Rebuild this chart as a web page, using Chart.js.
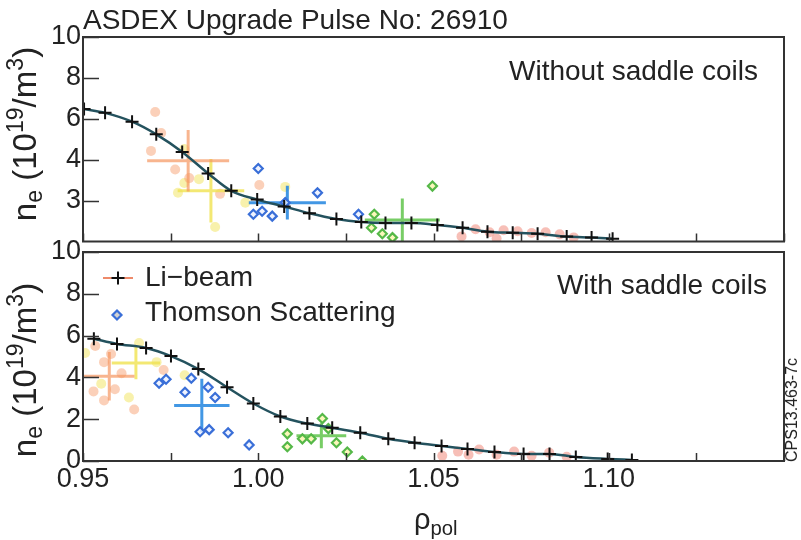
<!DOCTYPE html>
<html>
<head>
<meta charset="utf-8">
<script src="https://cdn.jsdelivr.net/npm/chart.js@4.4.1/dist/chart.umd.min.js"></script>
<style>
  body { margin: 0; background: #fff; }
  #wrap { position: relative; width: 801px; height: 540px; overflow: hidden; font-family: "Liberation Sans", Arial, Helvetica, sans-serif; color: #222; }
  #wrap canvas { position: absolute; left: 0; }
  .t { position: absolute; white-space: nowrap; line-height: 1; }
  .rot { position: absolute; white-space: nowrap; line-height: 1; transform: translate(-50%, -50%) rotate(-90deg); }
  sub { font-size: 0.7em; vertical-align: -0.28em; line-height: 0; }
  sup { font-size: 0.7em; vertical-align: 0.55em; line-height: 0; }
</style>
</head>
<body>
<div id="wrap">
  <canvas id="topChart" width="801" height="250" style="top:0"></canvas>
  <canvas id="botChart" width="801" height="315" style="top:225px"></canvas>

  <div class="t" style="left:83px; top:6px; font-size:28px">ASDEX Upgrade Pulse No: 26910</div>
  <div class="t" style="right:43px; top:57px; font-size:28px">Without saddle coils</div>
  <div class="t" style="right:34px; top:271px; font-size:28px">With saddle coils</div>
  <div class="t" style="left:145px; top:263px; font-size:28px">Li&minus;beam</div>
  <div class="t" style="left:145px; top:298px; font-size:28px">Thomson Scattering</div>
  <div class="rot" style="left:24px; top:134px; font-size:33px">n<sub>e</sub> (10<sup>19</sup>/m<sup>3</sup>)</div>
  <div class="rot" style="left:24px; top:370px; font-size:33px">n<sub>e</sub> (10<sup>19</sup>/m<sup>3</sup>)</div>
  <div class="t" style="left:414px; top:505px; font-size:29px">&rho;<sub>pol</sub></div>
  <div class="rot" style="left:792px; top:410px; font-size:16px">CPS13.463-7c</div>
</div>

<script>
// ---- top panel: without saddle coils ----
const topLiRho = [0.9503, 0.9563, 0.964, 0.9709, 0.9783, 0.9857, 0.9923, 0.9997, 1.0074, 1.0146, 1.0223, 1.0294, 1.0363, 1.0437, 1.0511, 1.0583, 1.0654, 1.0726, 1.0797, 1.088, 1.0951, 1.1011];
const topLiNe = [6.48, 6.29, 5.86, 5.24, 4.38, 3.33, 2.48, 2.05, 1.71, 1.38, 1.10, 0.95, 0.90, 0.90, 0.81, 0.67, 0.48, 0.43, 0.38, 0.24, 0.19, 0.14];
const topTsBlueRho = [1.0, 0.9986, 1.0011, 1.004, 1.0077, 1.0169, 1.0286];
const topTsBlueNe = [3.57, 1.33, 1.48, 1.24, 1.90, 2.38, 1.33];
const topTsGreenRho = [1.0331, 1.0323, 1.0354, 1.0383, 1.0497];
const topTsGreenNe = [1.33, 0.67, 0.38, 0.19, 2.71];
const topCrossRho = [0.98, 0.9865, 1.0083, 1.0411];
const topCrossNe = [3.95, 2.48, 1.90, 1.05];
const topCrossRhoErr = [0.0117, 0.0095, 0.011, 0.0107];
const topCrossNeErr = [1.5, 1.55, 0.83, 1.05];
const topRawOrangeRho = [0.9706, 0.9694, 0.9763, 0.9803, 1.0003, 0.9891, 0.9723];
const topRawOrangeNe = [6.33, 4.43, 3.52, 3.10, 2.76, 2.33, 5.30];
const topRawYellowRho = [0.9771, 0.9789, 0.9831, 0.9877, 0.9963, 1.0077, 0.9789];
const topRawYellowNe = [2.38, 2.86, 3.05, 0.71, 1.90, 2.67, 4.52];
const topRawRedRho = [1.058, 1.062, 1.066, 1.07, 1.074, 1.078, 1.082, 1.086, 1.068, 1.09];
const topRawRedNe = [0.25, 0.6, 0.45, 0.55, 0.5, 0.42, 0.45, 0.35, 0.15, 0.2];

// ---- bottom panel: with saddle coils ----
const botLiRho = [0.9531, 0.9597, 0.968, 0.9751, 0.9829, 0.9911, 0.9986, 1.0063, 1.014, 1.0211, 1.0291, 1.0371, 1.0446, 1.0523, 1.0597, 1.0674, 1.0757, 1.0831, 1.0906, 1.0997, 1.1066];
const botLiNe = [5.85, 5.60, 5.41, 5.02, 4.40, 3.53, 2.75, 2.13, 1.79, 1.59, 1.35, 1.06, 0.87, 0.72, 0.58, 0.43, 0.34, 0.34, 0.19, 0.10, 0.05];
const botTsBlueRho = [0.9717, 0.9737, 0.9809, 0.9791, 0.9857, 0.9877, 0.9834, 0.986, 0.9914, 0.9974];
const botTsBlueNe = [3.72, 3.91, 3.96, 3.29, 3.53, 3.04, 1.40, 1.50, 1.35, 0.77];
const botTsGreenRho = [1.0083, 1.0083, 1.0126, 1.0151, 1.0183, 1.02, 1.0223, 1.0254, 1.0297];
const botTsGreenNe = [1.30, 0.68, 1.06, 1.06, 2.03, 1.55, 0.87, 0.43, 0.0];
const botCrossRho = [0.9575, 0.9651, 0.9839, 1.018];
const botCrossNe = [4.06, 4.69, 2.66, 1.21];
const botCrossRhoErr = [0.0072, 0.0069, 0.0079, 0.0071];
const botCrossNeErr = [1.16, 0.78, 1.28, 0.6];
const botRawOrangeRho = [0.958, 0.956, 0.961, 0.9591, 0.953, 0.956, 0.9646, 0.973, 0.9535];
const botRawOrangeNe = [5.12, 4.73, 4.2, 3.43, 3.33, 2.9, 2.46, 4.35, 5.5];
const botRawYellowRho = [0.9631, 0.966, 0.971, 0.979, 0.9506, 0.9552];
const botRawYellowNe = [3.04, 5.65, 4.73, 4.1, 5.17, 3.7];
const botRawRedRho = [1.0525, 1.057, 1.06, 1.063, 1.068, 1.073, 1.078, 1.083, 1.088];
const botRawRedNe = [0.25, 0.45, 0.3, 0.55, 0.3, 0.45, 0.25, 0.4, 0.2];

// ---- axes ----
const xTickValues = [0.95, 0.975, 1.0, 1.025, 1.05, 1.075, 1.1, 1.125, 1.15];
const xTickLabels = ['0.95', '', '1.00', '', '1.05', '', '1.10', '', ''];
const topYTickValues = [2, 4, 6, 8, 10];
const topYTickLabels = ['3', '4', '6', '8', '10'];
const botYTickValues = [0, 2, 4, 6, 8, 10];
const botYTickLabels = ['0', '2', '4', '6', '8', '10'];

const crossColors = ['rgba(245,150,95,0.7)', 'rgba(240,226,80,0.8)', 'rgba(45,140,225,0.9)', 'rgba(105,200,85,0.9)'];
const fontFamily = '"Liberation Sans", Arial, Helvetica, sans-serif';

Chart.defaults.font.family = fontFamily;
Chart.defaults.color = '#222';

const pts = (xs, ys) => xs.map((v, i) => ({ x: v, y: ys[i] }));

function crossData(rho, ne, rhoErr, neErr, i) {
  return [
    { x: rho[i] - rhoErr[i], y: ne[i] },
    { x: rho[i] + rhoErr[i], y: ne[i] },
    { x: rho[i], y: null },
    { x: rho[i], y: ne[i] - neErr[i] },
    { x: rho[i], y: ne[i] + neErr[i] },
  ];
}

function rawSet(xs, ys, color) {
  return { data: pts(xs, ys), pointRadius: 5, pointBorderWidth: 0, pointBackgroundColor: color, borderColor: color, pointHoverRadius: 5 };
}

function panelDatasets(p) {
  const crosses = p.crossRho.map((_, i) => ({
    data: crossData(p.crossRho, p.crossNe, p.crossRhoErr, p.crossNeErr, i),
    showLine: true,
    spanGaps: false,
    borderColor: crossColors[i],
    borderWidth: 3,
    pointRadius: 0,
  }));
  return [
    {
      label: 'Li-beam',
      data: pts(p.liRho, p.liNe),
      showLine: true,
      borderColor: '#24525e',
      borderWidth: 2.5,
      cubicInterpolationMode: 'monotone',
      pointStyle: 'cross',
      pointRadius: 6.5,
      pointBorderColor: '#111',
      pointBorderWidth: 2,
    },
    {
      label: 'Thomson Scattering',
      data: pts(p.tsBlueRho, p.tsBlueNe),
      pointStyle: 'rectRot',
      pointRadius: 4.5,
      pointBorderColor: '#3a6fd8',
      pointBackgroundColor: 'rgba(235,240,255,0.8)',
      pointBorderWidth: 2.2,
    },
    {
      data: pts(p.tsGreenRho, p.tsGreenNe),
      pointStyle: 'rectRot',
      pointRadius: 4.5,
      pointBorderColor: '#55b848',
      pointBackgroundColor: 'rgba(250,245,170,0.8)',
      pointBorderWidth: 2.2,
    },
    ...crosses,
    rawSet(p.rawOrangeRho, p.rawOrangeNe, 'rgba(246,150,100,0.45)'),
    rawSet(p.rawYellowRho, p.rawYellowNe, 'rgba(242,228,90,0.5)'),
    rawSet(p.rawRedRho, p.rawRedNe, 'rgba(236,95,75,0.4)'),
  ];
}

// frame box and inward tick marks
const framePlugin = {
  id: 'frame',
  afterDraw(chart) {
    const { ctx, chartArea: a, scales } = chart;
    const x = scales.x, y = scales.y;
    ctx.save();
    ctx.strokeStyle = '#333';
    ctx.lineWidth = 1.5;
    ctx.beginPath();
    x.ticks.forEach(t => {
      const px = Math.round(x.getPixelForValue(t.value)) + 0.5;
      ctx.moveTo(px, a.bottom);
      ctx.lineTo(px, a.bottom - 8);
    });
    y.ticks.forEach(t => {
      if (!t.label) return;
      const py = Math.round(y.getPixelForValue(t.value)) + 0.5;
      ctx.moveTo(a.left, py);
      ctx.lineTo(a.left + 16, py);
    });
    ctx.stroke();
    ctx.lineWidth = 2;
    ctx.strokeRect(a.left, a.top, a.right - a.left, a.bottom - a.top);
    ctx.restore();
  },
};

// legend symbols for the lower panel
const legendPlugin = {
  id: 'legendMarks',
  afterDraw(chart) {
    if (!chart.options.plugins.legendMarks) return;
    const { ctx, chartArea: a } = chart;
    const y1 = a.top + 26, y2 = a.top + 63, cx = a.left + 35;
    ctx.save();
    ctx.strokeStyle = '#ee8a6a';
    ctx.lineWidth = 2;
    ctx.beginPath();
    ctx.moveTo(a.left + 20, y1);
    ctx.lineTo(a.left + 50, y1);
    ctx.stroke();
    ctx.strokeStyle = '#111';
    ctx.beginPath();
    ctx.moveTo(cx - 6.5, y1); ctx.lineTo(cx + 6.5, y1);
    ctx.moveTo(cx, y1 - 6.5); ctx.lineTo(cx, y1 + 6.5);
    ctx.stroke();
    ctx.strokeStyle = '#3a6fd8';
    ctx.fillStyle = 'rgba(180,180,180,0.6)';
    ctx.lineWidth = 2.2;
    ctx.beginPath();
    ctx.moveTo(cx - 1, y2 - 4.5); ctx.lineTo(cx + 3.5, y2); ctx.lineTo(cx - 1, y2 + 4.5); ctx.lineTo(cx - 5.5, y2); ctx.closePath();
    ctx.fill();
    ctx.stroke();
    ctx.restore();
  },
};

function makeChart(id, p, cfg) {
  return new Chart(document.getElementById(id), {
    type: 'scatter',
    data: { datasets: panelDatasets(p) },
    options: {
      responsive: false,
      animation: false,
      devicePixelRatio: 1,
      layout: { padding: { top: cfg.padTop, right: 17, left: 0, bottom: 0 } },
      plugins: { legend: { display: false }, tooltip: { enabled: false }, legendMarks: cfg.legend },
      scales: {
        x: {
          type: 'linear',
          min: 0.95,
          max: 1.15,
          afterBuildTicks: s => { s.ticks = xTickValues.map(v => ({ value: v })); },
          afterFit: s => { s.height = cfg.xHeight; s.paddingLeft = 0; s.paddingRight = 0; },
          grid: { display: false, drawTicks: false },
          border: { display: false },
          ticks: {
            display: cfg.xLabels,
            autoSkip: false,
            maxRotation: 0,
            padding: 2,
            font: { size: 27 },
            color: '#222',
            callback: (v, i) => xTickLabels[i],
          },
        },
        y: {
          min: 0,
          max: 10,
          afterBuildTicks: s => { s.ticks = cfg.yValues.map(v => ({ value: v })); },
          afterFit: s => { s.width = 83; s.paddingTop = 0; s.paddingBottom = 0; },
          grid: { display: false, drawTicks: false },
          border: { display: false },
          ticks: {
            padding: 2,
            font: { size: 27 },
            color: '#222',
            callback: (v, i) => cfg.yLabels[i],
          },
        },
      },
    },
    plugins: [framePlugin, legendPlugin],
  });
}

makeChart('topChart', {
  liRho: topLiRho, liNe: topLiNe,
  tsBlueRho: topTsBlueRho, tsBlueNe: topTsBlueNe,
  tsGreenRho: topTsGreenRho, tsGreenNe: topTsGreenNe,
  crossRho: topCrossRho, crossNe: topCrossNe, crossRhoErr: topCrossRhoErr, crossNeErr: topCrossNeErr,
  rawOrangeRho: topRawOrangeRho, rawOrangeNe: topRawOrangeNe,
  rawYellowRho: topRawYellowRho, rawYellowNe: topRawYellowNe,
  rawRedRho: topRawRedRho, rawRedNe: topRawRedNe,
}, { padTop: 37, xHeight: 4, xLabels: false, yValues: topYTickValues, yLabels: topYTickLabels, legend: false });

makeChart('botChart', {
  liRho: botLiRho, liNe: botLiNe,
  tsBlueRho: botTsBlueRho, tsBlueNe: botTsBlueNe,
  tsGreenRho: botTsGreenRho, tsGreenNe: botTsGreenNe,
  crossRho: botCrossRho, crossNe: botCrossNe, crossRhoErr: botCrossRhoErr, crossNeErr: botCrossNeErr,
  rawOrangeRho: botRawOrangeRho, rawOrangeNe: botRawOrangeNe,
  rawYellowRho: botRawYellowRho, rawYellowNe: botRawYellowNe,
  rawRedRho: botRawRedRho, rawRedNe: botRawRedNe,
}, { padTop: 27, xHeight: 79, xLabels: true, yValues: botYTickValues, yLabels: botYTickLabels, legend: true });
</script>
</body>
</html>
